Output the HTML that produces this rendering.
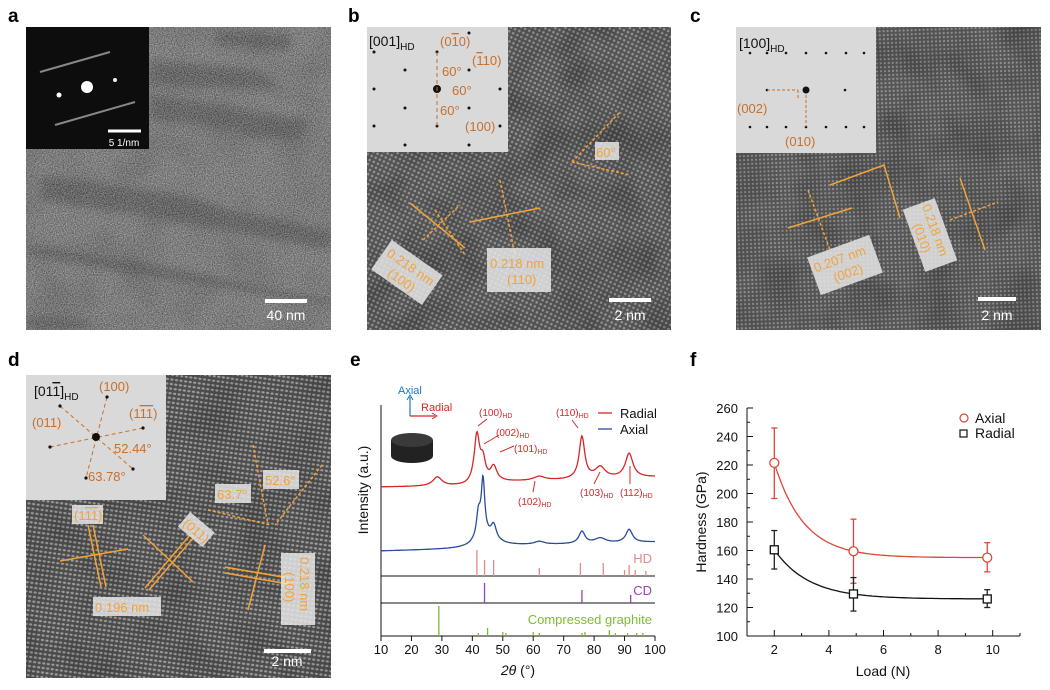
<!DOCTYPE html>
<html><head><meta charset="utf-8">
<style>
html,body{margin:0;padding:0;background:#fff;}
svg{display:block;font-family:"Liberation Sans",Arial,sans-serif;}
.pl{font-weight:bold;font-size:19px;fill:#000;}
.tk{font-size:13px;fill:#111;}
.or{fill:#c8702a;font-size:13px;}
.ob{fill:#f2a33a;font-size:13px;}
</style></head>
<body>
<svg id="fig" width="1050" height="690" viewBox="0 0 1050 690">
<defs>
<filter id="grain" x="0" y="0" width="100%" height="100%" color-interpolation-filters="sRGB">
  <feTurbulence type="fractalNoise" baseFrequency="0.9" numOctaves="1" seed="3"/>
  <feColorMatrix type="matrix" values="1.2 0 0 0 -0.12  1.2 0 0 0 -0.12  1.2 0 0 0 -0.12  0 0 0 0 0.5"/>
</filter>
<filter id="blur3"><feGaussianBlur stdDeviation="4"/></filter>
<filter id="blob" x="0" y="0" width="100%" height="100%" color-interpolation-filters="sRGB">
  <feTurbulence type="fractalNoise" baseFrequency="0.025" numOctaves="2" seed="8"/>
  <feColorMatrix type="matrix" values="0 0 0 0 0  0 0 0 0 0  0 0 0 0 0  0 0 0 -1.2 0.75"/>
</filter>
<pattern id="latB" width="4.5" height="4.5" patternUnits="userSpaceOnUse" patternTransform="rotate(25)">
  <circle cx="2.2" cy="2.2" r="1.3" fill="#cfcfcf" fill-opacity="0.5"/></pattern>
<pattern id="latC" width="4" height="4" patternUnits="userSpaceOnUse" patternTransform="rotate(-2)">
  <circle cx="2" cy="2" r="1.1" fill="#d0d0d0" fill-opacity="0.5"/></pattern>
<pattern id="latD" width="4.6" height="4.6" patternUnits="userSpaceOnUse" patternTransform="rotate(8)">
  <ellipse cx="2.3" cy="2.3" rx="1.6" ry="1.1" fill="#dedede" fill-opacity="0.55"/></pattern>
<clipPath id="clipA"><rect x="26" y="27" width="305" height="303"/></clipPath>
</defs>

<!-- panel letters -->
<text class="pl" x="8" y="22">a</text>
<text class="pl" x="348" y="22">b</text>
<text class="pl" x="690" y="22">c</text>
<text class="pl" x="8" y="366">d</text>
<text class="pl" x="350" y="366">e</text>
<text class="pl" x="690" y="366">f</text>

<!-- PANEL A -->
<g clip-path="url(#clipA)">
  <rect x="26" y="27" width="305" height="303" fill="#848484"/>
  <rect x="26" y="27" width="305" height="303" filter="url(#blob)" opacity="0.3"/>
  <g filter="url(#blur3)" fill="#3c3c3c" opacity="0.6">
    <polygon points="215,30 290,35 290,50 215,45"/>
    <polygon points="150,60 260,70 280,90 150,85"/>
    <polygon points="150,95 250,110 300,135 150,120"/>
    <polygon points="235,110 310,120 300,140 240,135"/>
    <polygon points="40,175 180,195 250,215 330,230 330,250 200,225 40,200"/>
    <polygon points="30,245 140,262 330,300 330,305 140,275 30,255"/>
    <polygon points="26,315 90,320 90,330 26,330"/>
  </g>
  <rect x="26" y="27" width="305" height="303" filter="url(#grain)"/>
</g>
<g>
  <rect x="26" y="27" width="123" height="122" fill="#0d0d0d"/>
  <circle cx="87" cy="87" r="6" fill="#fff"/>
  <circle cx="59" cy="95" r="2.5" fill="#fff"/>
  <circle cx="115" cy="80" r="2" fill="#eee"/>
  <line x1="40" y1="72" x2="110" y2="52" stroke="#888" stroke-width="2"/>
  <line x1="55" y1="125" x2="135" y2="102" stroke="#888" stroke-width="2"/>
  <line x1="108" y1="131" x2="141" y2="131" stroke="#fff" stroke-width="3"/>
  <text x="124" y="146" fill="#fff" font-size="10" text-anchor="middle">5 1/nm</text>
</g>
<g>
  <line x1="265" y1="301" x2="307" y2="301" stroke="#fff" stroke-width="4"/>
  <text x="286" y="320" fill="#fff" font-size="14" text-anchor="middle">40 nm</text>
</g>

<!-- PANEL B -->
<g>
  <rect x="367" y="27" width="304" height="303" fill="#545454"/>
  <rect x="367" y="27" width="304" height="303" fill="url(#latB)"/>
  <rect x="367" y="27" width="304" height="303" filter="url(#blob)" opacity="0.35"/>
</g>
<g>
  <rect x="367" y="27" width="141" height="125" fill="#d9d9d9"/>
  <g fill="#111">
    <circle cx="374" cy="52" r="1.5"/><circle cx="437" cy="52" r="1.5"/><circle cx="469" cy="33" r="1.5"/>
    <circle cx="405" cy="70" r="1.5"/><circle cx="469" cy="70" r="1.5"/>
    <circle cx="374" cy="89" r="1.5"/><circle cx="500" cy="89" r="1.5"/>
    <circle cx="405" cy="108" r="1.5"/><circle cx="469" cy="108" r="1.5"/>
    <circle cx="374" cy="126" r="1.5"/><circle cx="437" cy="126" r="1.5"/><circle cx="500" cy="126" r="1.5"/>
    <circle cx="405" cy="145" r="1.5"/><circle cx="469" cy="145" r="1.5"/>
    <circle cx="437" cy="89" r="4"/>
  </g>
  <line x1="437" y1="52" x2="437" y2="126" stroke="#c8702a" stroke-dasharray="4,3"/>
  <text x="369" y="46" font-size="14" fill="#111">[001]<tspan font-size="10" dy="4">HD</tspan></text>
  <text class="or" x="440" y="46">(0<tspan text-decoration="overline">1</tspan>0)</text>
  <text class="or" x="472" y="65">(<tspan text-decoration="overline">1</tspan>10)</text>
  <text class="or" x="442" y="76">60°</text>
  <text class="or" x="452" y="95">60°</text>
  <text class="or" x="440" y="115">60°</text>
  <text class="or" x="465" y="131">(100)</text>
</g>
<g stroke="#f2a33a" stroke-width="1.5" fill="none">
  <line x1="435" y1="210" x2="465" y2="255" stroke-dasharray="3,2"/>
  <line x1="423" y1="240" x2="460" y2="205" stroke-dasharray="3,2"/>
  <line x1="500" y1="180" x2="515" y2="255" stroke-dasharray="3,2"/>
  <line x1="470" y1="222" x2="540" y2="208"/>
  <line x1="410" y1="203" x2="465" y2="248"/>
  <line x1="572" y1="162" x2="620" y2="112" stroke-dasharray="3,2"/>
  <line x1="572" y1="162" x2="630" y2="175" stroke-dasharray="3,2"/>
</g>
<g>
  <rect x="595" y="142" width="24" height="18" fill="#e6e6e6" opacity="0.85"/>
  <text class="ob" x="596" y="157">60°</text>
  <g transform="rotate(35 400 270)"><rect x="376" y="250" width="62" height="36" fill="#e6e6e6" opacity="0.85"/>
    <text class="ob" x="380" y="266">0.218 nm</text><text class="ob" x="392" y="282">(100)</text></g>
  <rect x="487" y="248" width="64" height="44" fill="#e6e6e6" opacity="0.85"/>
  <text class="ob" x="490" y="268">0.218 nm</text><text class="ob" x="507" y="284">(110)</text>
</g>
<g>
  <line x1="609" y1="300" x2="651" y2="300" stroke="#fff" stroke-width="4"/>
  <text x="630" y="320" fill="#fff" font-size="14" text-anchor="middle">2 nm</text>
</g>

<!-- PANEL C -->
<g>
  <rect x="736" y="27" width="305" height="303" fill="#575757"/>
  <rect x="736" y="27" width="305" height="303" fill="url(#latC)"/>
  <rect x="736" y="27" width="305" height="303" filter="url(#blob)" opacity="0.35"/>
</g>
<g>
  <rect x="736" y="27" width="140" height="126" fill="#d9d9d9"/>
  <g fill="#111">
    <circle cx="750" cy="53" r="1.3"/><circle cx="767" cy="53" r="1.3"/><circle cx="786" cy="53" r="1.3"/><circle cx="806" cy="53" r="1.3"/><circle cx="826" cy="53" r="1.3"/><circle cx="846" cy="53" r="1.3"/><circle cx="864" cy="53" r="1.3"/>
    <circle cx="767" cy="90" r="1.3"/><circle cx="845" cy="90" r="1.3"/>
    <circle cx="750" cy="127" r="1.3"/><circle cx="767" cy="127" r="1.3"/><circle cx="786" cy="127" r="1.3"/><circle cx="806" cy="127" r="1.3"/><circle cx="826" cy="127" r="1.3"/><circle cx="846" cy="127" r="1.3"/><circle cx="864" cy="127" r="1.3"/>
    <circle cx="806" cy="90" r="3.5"/>
  </g>
  <path d="M767 90 H798 M798 90 V100 M806 95 V127" stroke="#c8702a" stroke-dasharray="3,2" fill="none"/>
  <text x="739" y="48" font-size="14" fill="#111">[100]<tspan font-size="10" dy="4">HD</tspan></text>
  <text class="or" x="737" y="113">(002)</text>
  <text class="or" x="785" y="146">(010)</text>
</g>
<g stroke="#f2a33a" stroke-width="1.5" fill="none">
  <polyline points="830,185 884,165 900,218"/>
  <line x1="788" y1="228" x2="852" y2="208"/>
  <line x1="808" y1="190" x2="830" y2="250" stroke-dasharray="3,2"/>
  <line x1="960" y1="178" x2="985" y2="250"/>
  <line x1="950" y1="220" x2="998" y2="202" stroke-dasharray="3,2"/>
</g>
<g>
  <g transform="rotate(-20 845 265)"><rect x="812" y="245" width="66" height="40" fill="#e6e6e6" opacity="0.85"/>
    <text class="ob" x="815" y="262">0.207 nm</text><text class="ob" x="830" y="278">(002)</text></g>
  <g transform="rotate(70 930 235)"><rect x="897" y="218" width="66" height="34" fill="#e6e6e6" opacity="0.85"/>
    <text class="ob" x="900" y="233">0.218 nm</text><text class="ob" x="915" y="248">(010)</text></g>
</g>
<g>
  <line x1="978" y1="299" x2="1016" y2="299" stroke="#fff" stroke-width="4"/>
  <text x="997" y="320" fill="#fff" font-size="14" text-anchor="middle">2 nm</text>
</g>

<!-- PANEL D -->
<g>
  <rect x="26" y="375" width="305" height="303" fill="#4e4e4e"/>
  <rect x="26" y="375" width="305" height="303" fill="url(#latD)"/>
  <rect x="26" y="375" width="305" height="303" filter="url(#blob)" opacity="0.25"/>
</g>
<g>
  <rect x="26" y="375" width="140" height="125" fill="#d9d9d9"/>
  <g stroke="#c8702a" stroke-dasharray="4,3" fill="none">
    <line x1="60" y1="406" x2="133" y2="469"/><line x1="107" y1="397" x2="86" y2="478"/>
    <line x1="50" y1="447" x2="143" y2="428"/>
  </g>
  <g fill="#111"><circle cx="60" cy="406" r="1.6"/><circle cx="107" cy="397" r="1.6"/><circle cx="143" cy="428" r="1.6"/><circle cx="50" cy="447" r="1.6"/><circle cx="133" cy="469" r="1.6"/><circle cx="86" cy="478" r="1.6"/><circle cx="96" cy="437" r="4"/></g>
  <text x="34" y="396" font-size="14" fill="#111">[01<tspan text-decoration="overline">1</tspan>]<tspan font-size="10" dy="4">HD</tspan></text>
  <text class="or" x="99" y="391" font-size="14">(100)</text>
  <text class="or" x="32" y="427" font-size="14">(011)</text>
  <text class="or" x="129" y="418" font-size="14">(1<tspan text-decoration="overline">11</tspan>)</text>
  <text class="or" x="114" y="453" font-size="14">52.44°</text>
  <text class="or" x="88" y="481" font-size="14">63.78°</text>
</g>
<g stroke="#f2a33a" stroke-width="1.5" fill="none">
  <line x1="88" y1="525" x2="101" y2="587"/><line x1="93" y1="525" x2="106" y2="587"/>
  <line x1="60" y1="561" x2="128" y2="549"/>
  <line x1="145" y1="588" x2="190" y2="535"/><line x1="149" y1="590" x2="194" y2="537"/>
  <line x1="143" y1="535" x2="193" y2="582"/>
  <line x1="225" y1="567" x2="288" y2="578"/><line x1="225" y1="573" x2="288" y2="584"/>
  <line x1="265" y1="545" x2="248" y2="610"/>
  <g stroke-dasharray="3,2"><line x1="208" y1="510" x2="270" y2="525"/><line x1="253" y1="445" x2="268" y2="525"/><line x1="322" y1="465" x2="275" y2="525"/></g>
</g>
<g>
  <rect x="72" y="505" width="31" height="19" fill="#e6e6e6" opacity="0.85"/><text class="ob" x="74" y="520">(1<tspan text-decoration="overline">11</tspan>)</text>
  <g transform="rotate(40 196 530)"><rect x="180" y="520" width="32" height="19" fill="#e6e6e6" opacity="0.85"/><text class="ob" x="182" y="535">(011)</text></g>
  <rect x="93" y="597" width="68" height="19" fill="#e6e6e6" opacity="0.85"/><text class="ob" x="95" y="612">0.196 nm</text>
  <rect x="215" y="484" width="36" height="19" fill="#e6e6e6" opacity="0.85"/><text class="ob" x="217" y="499">63.7°</text>
  <rect x="263" y="470" width="36" height="19" fill="#e6e6e6" opacity="0.85"/><text class="ob" x="265" y="485">52.6°</text>
  <g transform="rotate(90 305 590)"><rect x="268" y="580" width="72" height="34" fill="#e6e6e6" opacity="0.85"/>
    <text class="ob" x="272" y="595">0.218 nm</text><text class="ob" x="287" y="610">(100)</text></g>
</g>
<g>
  <line x1="264" y1="651" x2="311" y2="651" stroke="#fff" stroke-width="4"/>
  <text x="287" y="666" fill="#fff" font-size="14" text-anchor="middle">2 nm</text>
</g>

<!-- PANEL E static parts -->
<g id="chartE">
  <line x1="381" y1="405" x2="381" y2="636" stroke="#111"/>
  <line x1="381" y1="576" x2="655" y2="576" stroke="#111"/>
  <line x1="381" y1="603" x2="655" y2="603" stroke="#111"/>
  <line x1="381" y1="636" x2="655" y2="636" stroke="#111"/>
  <text x="368" y="490" transform="rotate(-90 368 490)" font-size="14" text-anchor="middle" fill="#111">Intensity (a.u.)</text>
  <text x="518" y="675" font-size="14" text-anchor="middle" fill="#111"><tspan font-style="italic">2θ</tspan> (°)</text>
  <g>
    <line x1="410" y1="416" x2="410" y2="397" stroke="#1a78c2" stroke-width="1.2"/>
    <path d="M407 400 L410 395 L413 400" fill="none" stroke="#1a78c2"/>
    <text x="398" y="394" font-size="11" fill="#1a78c2">Axial</text>
    <line x1="410" y1="416" x2="435" y2="416" stroke="#d62728" stroke-width="1.2"/>
    <path d="M432 413 L437 416 L432 419" fill="none" stroke="#d62728"/>
    <text x="421" y="411" font-size="11" fill="#d62728">Radial</text>
    <path d="M391 440 V456 A21 7 0 0 0 433 456 V440 Z" fill="#222"/>
    <ellipse cx="412" cy="440" rx="21" ry="7" fill="#3a3a3a"/>
  </g>
  <g>
    <line x1="598" y1="413" x2="612" y2="413" stroke="#d62728" stroke-width="1.3"/>
    <text x="620" y="418" font-size="13" fill="#111">Radial</text>
    <line x1="598" y1="429" x2="612" y2="429" stroke="#2b4c9b" stroke-width="1.3"/>
    <text x="620" y="434" font-size="13" fill="#111">Axial</text>
  </g>
  <text x="652" y="563" font-size="13" fill="#e08a8a" text-anchor="end">HD</text>
  <text x="652" y="595" font-size="13" fill="#9b3fb5" text-anchor="end">CD</text>
  <text x="652" y="624" font-size="13" fill="#7cbc2e" text-anchor="end">Compressed graphite</text>
  <g font-size="10" fill="#d62728">
    <text x="479" y="416">(100)<tspan font-size="7" dy="2">HD</tspan></text>
    <text x="496" y="436">(002)<tspan font-size="7" dy="2">HD</tspan></text>
    <text x="514" y="452">(101)<tspan font-size="7" dy="2">HD</tspan></text>
    <text x="518" y="505">(102)<tspan font-size="7" dy="2">HD</tspan></text>
    <text x="556" y="416">(110)<tspan font-size="7" dy="2">HD</tspan></text>
    <text x="580" y="496">(103)<tspan font-size="7" dy="2">HD</tspan></text>
    <text x="620" y="496">(112)<tspan font-size="7" dy="2">HD</tspan></text>
  </g>
  <g stroke="#d62728" stroke-width="1">
    <line x1="487" y1="419" x2="478" y2="426"/><line x1="499" y1="435" x2="484" y2="444"/>
    <line x1="514" y1="446" x2="500" y2="452"/><line x1="533" y1="492" x2="535" y2="481"/>
    <line x1="572" y1="420" x2="578" y2="428"/><line x1="594" y1="484" x2="600" y2="472"/>
    <line x1="630" y1="484" x2="630" y2="466"/>
  </g>
</g>

<!-- PANEL F static parts -->
<g id="chartF">
  <line x1="747" y1="408" x2="747" y2="636" stroke="#111"/>
  <line x1="747" y1="636" x2="1020" y2="636" stroke="#111"/>
  <text x="706" y="522" transform="rotate(-90 706 522)" font-size="14" text-anchor="middle" fill="#111">Hardness (GPa)</text>
  <text x="883" y="676" font-size="14" text-anchor="middle" fill="#111">Load (N)</text>
  <g>
    <circle cx="964" cy="418" r="4" fill="none" stroke="#e0453a" stroke-width="1.2"/>
    <text x="975" y="423" font-size="14" fill="#111">Axial</text>
    <rect x="960" y="430" width="7" height="7" fill="none" stroke="#111" stroke-width="1.2"/>
    <text x="975" y="438" font-size="14" fill="#111">Radial</text>
  </g>
</g>
</svg>

<script>
// ---- Panel e data ----
const radialBaseX = [10, 38, 50, 100];
const radialBaseI = [149, 150, 154, 159];
const radialPeakPos = [28.5, 41.5, 43.5, 47, 62, 76, 82, 91.5];
const radialPeakAmp = [9, 48, 20, 15, 4, 42, 11, 24];
const radialPeakWid = [1.8, 1.1, 1.0, 1.3, 2.2, 1.1, 2.0, 1.5];
const axialBaseX = [10, 38, 50, 100];
const axialBaseI = [85, 87, 90, 94];
const axialPeakPos = [42, 43.5, 44, 47, 62, 76, 82, 91.5];
const axialPeakAmp = [24, 56, 10, 15, 3, 12, 5, 13];
const axialPeakWid = [0.8, 0.7, 4, 1.1, 2.0, 1.2, 2.2, 1.3];
const hdPos = [41.5, 44, 47, 62, 75.5, 83, 90, 91.5, 93.5, 97];
const hdHeight = [26, 16, 16, 8, 13, 13, 6, 11, 6, 5];
const cdPos = [44, 76, 92];
const cdHeight = [20, 13, 8];
const grPos = [29, 42, 45, 50, 51, 60, 62, 76, 77, 85, 87, 91, 94, 96];
const grHeight = [30, 3, 8, 4, 3, 4, 3, 3, 4, 6, 3, 3, 3, 3];
const eTicks = [10, 20, 30, 40, 50, 60, 70, 80, 90, 100];

// ---- Panel f data ----
const loads = [2, 4.9, 9.8];
const axialH = [221.5, 159.5, 155];
const axialErrLo = [196.5, 137, 145];
const axialErrHi = [246, 182, 165.5];
const radialH = [160.5, 129.5, 126];
const radialErrLo = [147, 117.5, 120];
const radialErrHi = [174, 141, 132.5];
const fYTicks = [100, 120, 140, 160, 180, 200, 220, 240, 260];
const fXTicks = [2, 4, 6, 8, 10];

const NS = "http://www.w3.org/2000/svg";
function mk(tag, attrs, parent) {
  const el = document.createElementNS(NS, tag);
  for (const k in attrs) el.setAttribute(k, attrs[k]);
  parent.appendChild(el);
  return el;
}
const gE = document.getElementById('chartE');
const gF = document.getElementById('chartF');

const xE = t => 381 + (t - 10) * 274 / 90;
const yE = I => 636 - I;
function interp(xs, ys, x) {
  for (let i = 0; i < xs.length - 1; i++) {
    if (x <= xs[i + 1]) return ys[i] + (ys[i + 1] - ys[i]) * (x - xs[i]) / (xs[i + 1] - xs[i]);
  }
  return ys[ys.length - 1];
}
function curve(bx, bi, pp, pa, pw, t) {
  let v = interp(bx, bi, t);
  for (let i = 0; i < pp.length; i++) {
    const d = (t - pp[i]) / pw[i];
    v += pa[i] / (1 + d * d);
  }
  return v;
}
function drawCurve(bx, bi, pp, pa, pw, color, name) {
  let d = '';
  for (let t = 10; t <= 100.001; t += 0.2) {
    d += (d ? 'L' : 'M') + xE(t).toFixed(1) + ' ' + yE(curve(bx, bi, pp, pa, pw, t)).toFixed(1);
  }
  const p = mk('path', {d: d, fill: 'none', stroke: color, 'stroke-width': 1.3}, gE);
  
  
}
drawCurve(radialBaseX, radialBaseI, radialPeakPos, radialPeakAmp, radialPeakWid, '#d62728', 'radial-xrd-line');
drawCurve(axialBaseX, axialBaseI, axialPeakPos, axialPeakAmp, axialPeakWid, '#2b4c9b', 'axial-xrd-line');

function sticks(pos, h, base, color, name) {
  for (let i = 0; i < pos.length; i++) {
    const l = mk('line', {x1: xE(pos[i]), x2: xE(pos[i]), y1: yE(base), y2: yE(base + h[i]), stroke: color, 'stroke-width': 1.3}, gE);
    
    
  }
}
sticks(hdPos, hdHeight, 60, '#e08a8a', 'hd-reference-stick');
sticks(cdPos, cdHeight, 33, '#9b3fb5', 'cd-reference-stick');
sticks(grPos, grHeight, 0, '#7cbc2e', 'graphite-reference-stick');

eTicks.forEach(t => {
  const tl = mk('line', {x1: xE(t), x2: xE(t), y1: 636, y2: 641, stroke: '#111'}, gE);
  
  
  const tx = mk('text', {x: xE(t), y: 654, 'text-anchor': 'middle', class: 'tk'}, gE);
  tx.textContent = t;
  
  
});

const xF = v => 747 + (v - 1) * 27.3;
const yF = h => 636 - (h - 100) * 228 / 160;
fYTicks.forEach(v => {
  const tl = mk('line', {x1: 747, x2: 753, y1: yF(v), y2: yF(v), stroke: '#111'}, gF);
  
  
  if (v < 260) {
    const ml = mk('line', {x1: 747, x2: 750, y1: yF(v + 10), y2: yF(v + 10), stroke: '#111'}, gF);
    
    
  }
  const tx = mk('text', {x: 738, y: yF(v) + 5, 'text-anchor': 'end', class: 'tk'}, gF);
  tx.textContent = v;
  
  
});
fXTicks.forEach(v => {
  const tl = mk('line', {x1: xF(v), x2: xF(v), y1: 636, y2: 630, stroke: '#111'}, gF);
  
  
  const ml = mk('line', {x1: xF(v + 1), x2: xF(v + 1), y1: 636, y2: 633, stroke: '#111'}, gF);
  
  
  const tx = mk('text', {x: xF(v), y: 654, 'text-anchor': 'middle', class: 'tk'}, gF);
  tx.textContent = v;
  
  
});

function fitCurve(xs, ys, color, name) {
  const y0 = ys[ys.length - 1], A = ys[0] - y0;
  const r = Math.max((ys[1] - y0) / A, 0.001);
  const tau = (xs[1] - xs[0]) / -Math.log(r);
  let d = '';
  for (let x = xs[0]; x <= xs[xs.length - 1] + 0.001; x += 0.1) {
    const y = y0 + A * Math.exp(-(x - xs[0]) / tau);
    d += (d ? 'L' : 'M') + xF(x).toFixed(1) + ' ' + yF(y).toFixed(1);
  }
  const p = mk('path', {d: d, fill: 'none', stroke: color, 'stroke-width': 1.3}, gF);
  
  
}
fitCurve(loads, axialH, '#e0453a', 'axial-fit-curve');
fitCurve(loads, radialH, '#111', 'radial-fit-curve');

function errBars(lo, hi, color, name) {
  loads.forEach((x, i) => {
    const g = mk('g', {stroke: color, 'stroke-width': 1.3}, gF);
    
    
    mk('line', {x1: xF(x), x2: xF(x), y1: yF(lo[i]), y2: yF(hi[i])}, g);
    mk('line', {x1: xF(x) - 3, x2: xF(x) + 3, y1: yF(lo[i]), y2: yF(lo[i])}, g);
    mk('line', {x1: xF(x) - 3, x2: xF(x) + 3, y1: yF(hi[i]), y2: yF(hi[i])}, g);
  });
}
errBars(axialErrLo, axialErrHi, '#e0453a', 'axial-error-bar');
errBars(radialErrLo, radialErrHi, '#222', 'radial-error-bar');
loads.forEach((x, i) => {
  const c = mk('circle', {cx: xF(x), cy: yF(axialH[i]), r: 4.5, fill: '#fff', stroke: '#e0453a', 'stroke-width': 1.3}, gF);
  
  
  const s = mk('rect', {x: xF(x) - 4, y: yF(radialH[i]) - 4, width: 8, height: 8, fill: '#fff', stroke: '#111', 'stroke-width': 1.3}, gF);
  
  
});
</script>
</body></html>
